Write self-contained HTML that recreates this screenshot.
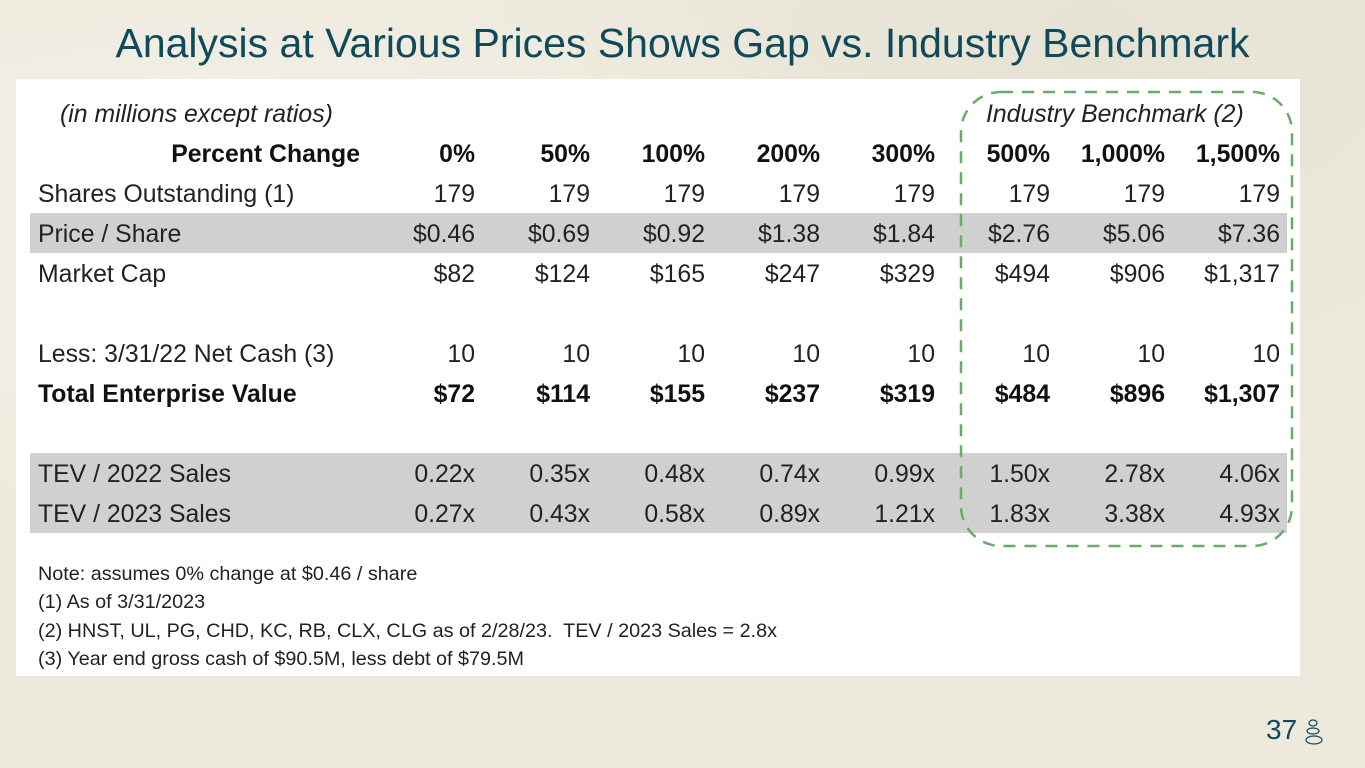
<!DOCTYPE html>
<html><head><meta charset="utf-8"><style>
body{margin:0;width:1365px;height:768px;overflow:hidden;background:#ede9dc;font-family:"Liberation Sans",sans-serif;position:relative}
.bg1{position:absolute;left:0;top:0;width:1365px;height:768px;background:radial-gradient(ellipse at 15% 30%,#f4f1e8 0,transparent 45%),radial-gradient(ellipse at 80% 5%,#e6e2d4 0,transparent 40%)}
h1{position:absolute;left:0;width:1365px;top:20px;margin:0;text-align:center;font-weight:normal;font-size:41px;color:#0e4a5a}
.panel{position:absolute;left:16px;top:79px;width:1284px;height:597px;background:#fff}
.band{position:absolute;left:30px;width:1257px;background:#d0d0d0}
.t{position:absolute;font-size:24.8px;color:#222;line-height:40px;white-space:nowrap}
.n{text-align:right;width:110px}
.b{font-weight:bold;color:#111}
.note{position:absolute;left:38px;font-size:19.8px;color:#222;white-space:nowrap}
</style></head><body>
<div class="bg1"></div>
<h1>Analysis at Various Prices Shows Gap vs. Industry Benchmark</h1>
<div class="panel"></div>
<div class="band" style="top:213px;height:40px"></div>
<div class="band" style="top:453px;height:80px"></div>
<svg style="position:absolute;left:0;top:0" width="1365" height="768">
<rect x="961" y="92" width="331" height="454" rx="40" fill="none" stroke="#6aaa6a" stroke-width="2.5" stroke-dasharray="12 9"/>
</svg>
<div id="tbl"></div>
<div class="t" style="left:60px;top:95px;font-style:italic">(in millions except ratios)</div>
<div class="t" style="left:986px;top:95px;font-style:italic">Industry Benchmark (2)</div>
<div class="note" style="top:563px">Note: assumes 0% change at $0.46 / share</div>
<div class="note" style="top:591px">(1) As of 3/31/2023</div>
<div class="note" style="top:620px">(2) HNST, UL, PG, CHD, KC, RB, CLX, CLG as of 2/28/23.&nbsp; TEV / 2023 Sales = 2.8x</div>
<div class="note" style="top:648px">(3) Year end gross cash of $90.5M, less debt of $79.5M</div>
<div style="position:absolute;left:1266px;top:714px;font-size:28px;color:#0e4a5a">37</div>
<svg style="position:absolute;left:1303px;top:718px" width="24" height="30">
<ellipse cx="10" cy="5" rx="4" ry="3" fill="none" stroke="#0e4a5a" stroke-width="1.2"/>
<ellipse cx="10" cy="13" rx="6" ry="3" fill="none" stroke="#0e4a5a" stroke-width="1.2"/>
<ellipse cx="11" cy="22" rx="8" ry="4" fill="none" stroke="#0e4a5a" stroke-width="1.2"/>
</svg>
<script>
const headers=["0%","50%","100%","200%","300%","500%","1,000%","1,500%"];
const rowLabels=["Shares Outstanding (1)","Price / Share","Market Cap","","Less: 3/31/22 Net Cash (3)","Total Enterprise Value","","TEV / 2022 Sales","TEV / 2023 Sales"];
const rowValues=[
["179","179","179","179","179","179","179","179"],
["$0.46","$0.69","$0.92","$1.38","$1.84","$2.76","$5.06","$7.36"],
["$82","$124","$165","$247","$329","$494","$906","$1,317"],
[],
["10","10","10","10","10","10","10","10"],
["$72","$114","$155","$237","$319","$484","$896","$1,307"],
[],
["0.22x","0.35x","0.48x","0.74x","0.99x","1.50x","2.78x","4.06x"],
["0.27x","0.43x","0.58x","0.89x","1.21x","1.83x","3.38x","4.93x"]];
const tbl=document.getElementById('tbl');
function mk(txt,cls,left,top){const d=document.createElement('div');d.className='t '+cls;d.textContent=txt;d.style.left=left+'px';d.style.top=top+'px';tbl.appendChild(d);return d;}
const colRight=c=>475+c*115;
const rowTop=r=>175+r*40;
const h=mk("Percent Change","b",0,135);h.style.width='360px';h.style.textAlign='right';


headers.forEach((t,c)=>{const d=mk(t,'n b',colRight(c)-110,135);

});
rowLabels.forEach((l,r)=>{if(!l)return;const bold=r===5?' b':'';
const d=mk(l,bold,38,rowTop(r));


rowValues[r].forEach((v,c)=>{const e=mk(v,'n'+bold,colRight(c)-110,rowTop(r));

});});
</script>
</body></html>
